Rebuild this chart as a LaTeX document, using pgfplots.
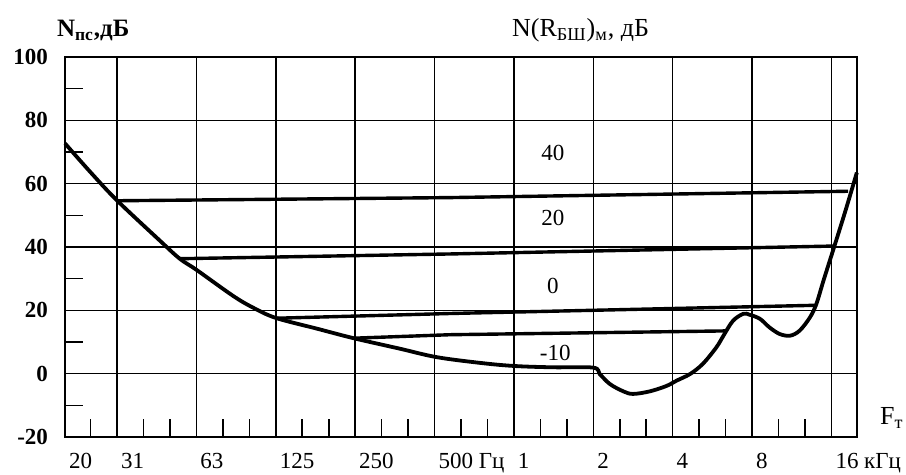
\documentclass[border=0pt]{standalone}
\usepackage{fontspec}
\setmainfont{Liberation Serif}
\usepackage{pgfplots}
\pgfplotsset{compat=1.18}
\begin{document}
\begin{tikzpicture}
\useasboundingbox (-32.5pt,-19pt) rectangle (420.5pt,218.5pt);
\begin{axis}[
  at={(0pt,0pt)}, anchor=south west,
  scale only axis, width=396pt, height=190pt,
  xmin=-0.6554, xmax=9.3219, ymin=-20, ymax=100,
  xtick={-0.6554,0,1,2,3,4,5,6,7,8,9},
  xticklabels={20,31,63,125,250,500 Гц,1,2,4,8,16 кГц},
  ytick={-20,0,20,40,60,80,100},
  minor xtick={-0.3333,0.3333,0.6667,1.3333,1.6667,2.3333,2.6667,3.3333,3.6667,4.3333,4.6667,5.3333,5.6667,6.3333,6.6667,7.3333,7.6667,8.3333,8.6667},
  minor ytick={-10,10,30,50,70,90},
  tick pos=left, tick align=inside,
  major tick length=0pt, minor tick length=9pt,
  grid=major,
  major grid style={black, line width=0.8pt},
  minor tick style={black, line width=0.8pt},
  axis line style={black, line width=1pt},
  /pgf/number format/assume math mode=true,
  xticklabel style={font=\fontsize{11.5}{13}\selectfont, anchor=north west, xshift=-1.5pt, yshift=-4.5pt},
  yticklabel style={font=\bfseries\fontsize{11.5}{13}\selectfont, xshift=-5pt},
  clip=false,
]
% threshold curve
\addplot[black, line width=1.9pt, smooth, tension=0.55] coordinates {
(-0.655,72.7) (-0.33,63.5) (0,54.7) (0.54,42) (0.79,36.3) (1.0,32.8) (1.46,24.6) (1.71,20.9)
(2.0,17.6) (2.52,14.2) (2.98,11.2) (3.56,7.9) (4.03,5.2) (4.61,3.3) (5.02,2.4) (5.5,2.0)
(6.0,1.9) (6.08,-0.1) (6.21,-3.3) (6.38,-5.6) (6.5,-6.4) (6.71,-5.6) (6.92,-3.9) (7.05,-2.2)
(7.22,-0.1) (7.38,3.1) (7.55,8.3) (7.64,12.0) (7.76,16.7) (7.89,18.9) (7.97,18.6) (8.10,17.3)
(8.22,14.6) (8.35,12.5) (8.48,12.0) (8.60,13.6) (8.73,17.8) (8.81,22.0) (8.90,29.4) (9.02,38.9)
(9.17,50.9) (9.32,63.5)
};
% contour lines
\addplot[black, line width=1.7pt] coordinates {(0,54.6) (4.2,55.6) (9.21,57.6)};
\addplot[black, line width=1.7pt] coordinates {(0.79,36.3) (4.2,37.8) (9.03,40.3)};
\addplot[black, line width=1.7pt] coordinates {(2.0,17.5) (4.2,19.0) (8.82,21.6)};
\addplot[black, line width=1.7pt] coordinates {(2.98,11.2) (4.2,12.3) (7.67,13.5)};
% contour labels
\node[font=\fontsize{11.5}{13}\selectfont] at (axis cs:5.49,69.8) {40};
\node[font=\fontsize{11.5}{13}\selectfont] at (axis cs:5.49,49.3) {20};
\node[font=\fontsize{11.5}{13}\selectfont] at (axis cs:5.49,27.8) {0};
\node[font=\fontsize{11.5}{13}\selectfont] at (axis cs:5.52,6.6) {-10};
% titles
\node[anchor=base west, font=\bfseries\fontsize{12.5}{15}\selectfont, xshift=-7.5pt, yshift=10pt] at (rel axis cs:0,1) {N\textsubscript{пс},дБ};
\node[anchor=base west, font=\fontsize{13}{15}\selectfont, yshift=10pt] at (rel axis cs:0.5556,1) {N(R\textsubscript{БШ})\textsubscript{м}, дБ};
\node[anchor=base west, font=\fontsize{13}{15}\selectfont, xshift=8pt, yshift=6pt] at (rel axis cs:1,0) {F\textsubscript{т}};
\end{axis}
\end{tikzpicture}
\end{document}
